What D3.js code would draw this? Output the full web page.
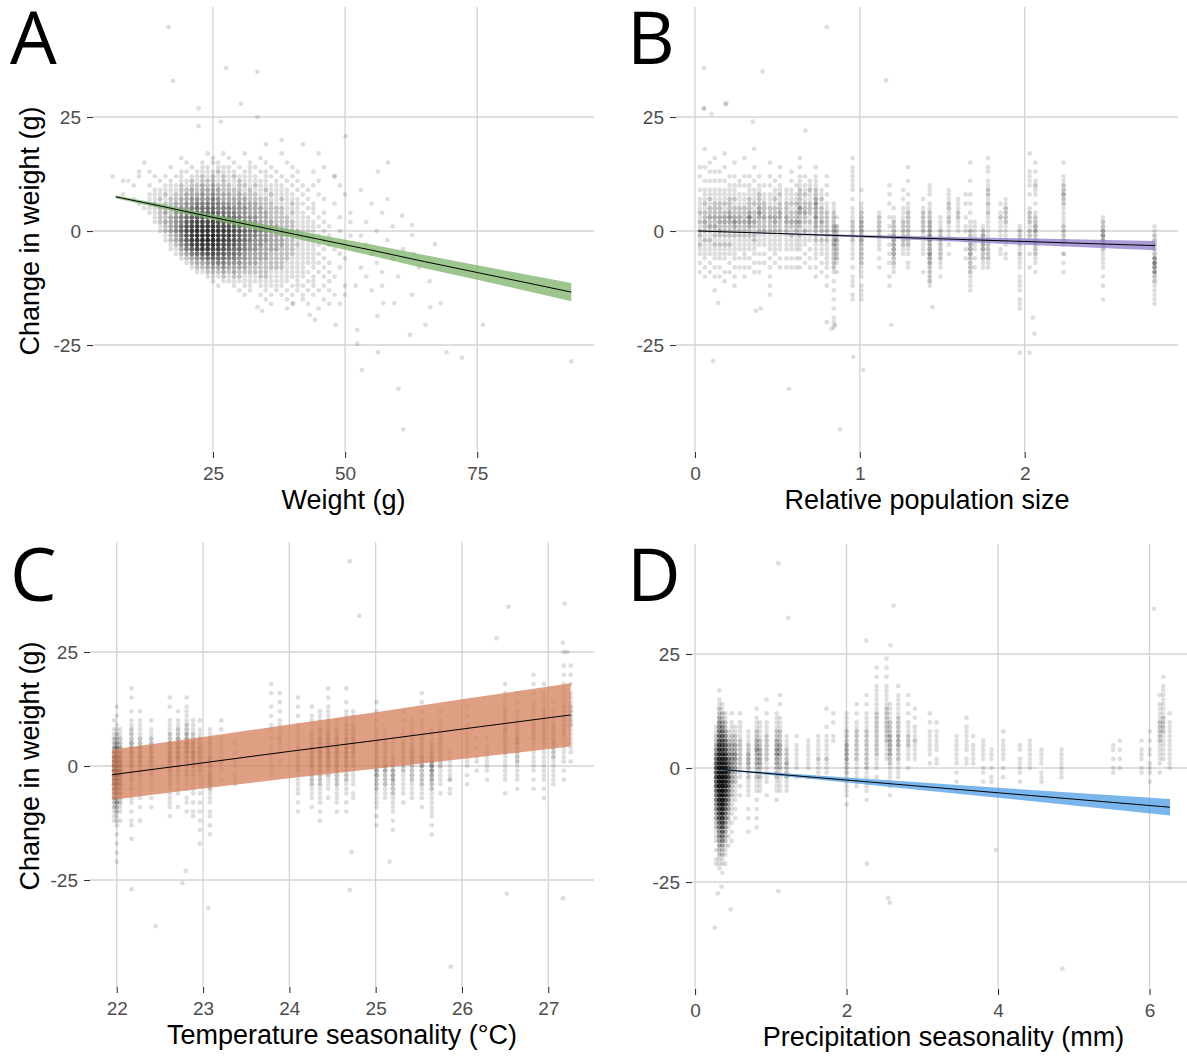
<!DOCTYPE html>
<html>
<head>
<meta charset="utf-8">
<script src="https://cdn.jsdelivr.net/npm/d3@7"></script>
<style>
body { margin: 0; background: #fff; }
text { font-family: "Liberation Sans", Arial, sans-serif; }
</style>
</head>
<body>
<svg id="chart" width="1187" height="1056"></svg>
<script>
// ---------- data ----------
// shared y axis
const yTicks = [-25, 0, 25];
const yDomain = [-48.46, 49.12];

// A: weight. point counts on an integer grid, rows y = 17 .. -17, columns x = 8 .. 62
const weightX0 = 8;
const weightY0 = 17;
const weightRows = [
  "00000 00000 00000 01001 00010 00000 10000 00000 00000 00000 00000",
  "00000 00000 01000 00100 10000 01000 00000 00000 00000 00000 00000",
  "00000 00000 00100 10110 01001 00100 01000 00000 00000 00000 00000",
  "00000 00001 00010 11011 10101 10010 00100 00000 00000 00000 00000",
  "00000 10000 01101 11121 11011 01101 00010 01000 00000 00000 00000",
  "00010 01010 11011 21212 12111 10110 10100 00000 10000 00000 00000",
  "01000 00101 01121 22212 11211 11101 01010 00100 00000 00000 00000",
  "00100 10011 12122 32322 21221 21111 10101 01000 01000 00000 00000",
  "00000 01111 12232 33332 22212 11211 11010 10000 00000 00000 00000",
  "10000 11121 22333 43433 32322 21121 11101 00100 00100 00000 00000",
  "00100 11212 23344 44543 33332 22211 21110 10010 00000 00000 00000",
  "00010 12122 33445 55554 43433 32221 11211 01000 10000 00000 00000",
  "00001 11222 34456 66655 54443 33222 21110 11000 00000 00000 00000",
  "00000 11232 44567 77766 55443 33322 21211 01010 00000 00000 00000",
  "00000 01223 45678 88877 66544 43322 22111 10100 01000 00000 00000",
  "00000 01233 45789 99988 76554 43332 22211 11010 00010 00000 00000",
  "00000 00123 4689a aaa99 87654 44333 22211 11101 00000 00000 00000",
  "00000 00123 468ab bbbaa 98765 54433 32221 11010 01000 00000 00000",
  "00000 00012 358ac ccdba a8765 54433 32221 11101 00010 00000 00000",
  "00000 00012 357ab cdcba 98765 44433 32211 11010 00000 00000 00000",
  "00000 00001 2469a bbba9 87654 44333 32221 11101 00100 00000 00000",
  "00000 00001 13579 aa998 76654 43333 22211 11010 10000 00000 00000",
  "00000 00000 12356 78877 66543 33322 22211 11100 01000 00000 00000",
  "00000 00000 01234 56666 55443 33322 22111 11010 00100 00000 00000",
  "00000 00000 00123 34455 44433 32222 21111 11101 00000 00000 00000",
  "00000 00000 00012 23334 33332 22222 21111 01010 01000 00000 00000",
  "00000 00000 00001 12223 23222 22211 11111 10101 00000 00000 00000",
  "00000 00000 00000 01112 12211 12211 11111 01010 10000 00000 00000",
  "00000 00000 00000 00101 11111 11111 11010 11001 00000 00000 00000",
  "00000 00000 00000 00010 01011 01111 10111 01010 00100 00000 00000",
  "00000 00000 00000 00000 00101 00101 01010 10101 00000 00000 00000",
  "00000 00000 00000 00000 00010 01010 10101 01000 10000 00000 00000",
  "00000 00000 00000 00000 00000 00100 01001 00010 00000 00000 00000",
  "00000 00000 00000 00000 00000 00010 00100 10000 01000 00000 00000",
  "00000 00000 00000 00000 00000 00000 01000 00100 00000 00000 00000"
];
const weightOutliers = [
  [16.6, 44.7], [27.5, 35.7], [17.4, 32.9], [33.4, 34.9], [30.3, 27.9], [22.3, 26.9],
  [22.3, 23], [33.4, 25], [26.5, 24], [50.1, 20.8], [58.1, 15], [56.2, 13], [67, -2.9],
  [76.1, -20.6], [69.2, -26.6], [72.1, -27.8], [92.8, -28.6], [65.2, -20.6], [62.3, -22.8],
  [52.3, -24.7], [52.3, -21.7], [48.2, -20.6], [56.2, -26.6], [53.2, -30.5], [60.1, -34.6],
  [61, -43.5], [68.1, -15.8], [66.1, -16.7], [62.7, -14], [59.3, -15.8], [57.2, -15.8],
  [56.1, -18.6], [62.7, 1.3], [62.7, -0.9], [60.8, 3.4], [43.3, -18.4], [44.3, -19.5],
  [33.4, -16.7], [34.3, -17.5], [40.2, -15.8], [8, 11], [6, 12], [11, 13], [12, 15],
  [35, 19], [38, 20], [42, 19], [45, 17], [46, 14], [48, 12], [53, 9], [55, 6], [57, 4],
  [54, 2], [58, -2], [55, -5], [53, -8], [57, -9], [59, -6], [63, -5], [52, -12],
  [55, -13], [50, -14], [47, -16], [60, -10], [64, -8], [66, -11], [54, -3], [56, 0],
  [58, 7], [61, -4], [51, 4], [53, -1], [56, -7], [59, 1], [54, -10], [57, -12]
];
const weightTicks = [25, 50, 75];
const weightFitX = [6.6, 15, 25, 35, 45, 55, 65, 75, 85, 92.8];
const weightFitY = [7.5, 5.5, 3.0, 0.6, -1.8, -4.2, -6.7, -9.1, -11.5, -13.4];
const weightFitHalf = [0.3, 0.5, 0.6, 0.8, 1.0, 1.25, 1.45, 1.6, 1.8, 2.0];

// B: relative population size. columns [x, top y, counts from top y downwards]
const popCols = [
  [0.03, 14, "10100101112121221211010100"],
  [0.06, 18, "1000100101112122322121111010100"],
  [0.09, 15, "10101011212232321211101010"],
  [0.12, 16, "100101011122232322121110101001"],
  [0.15, 13, "1010111222332321211101010"],
  [0.18, 17, "10010010111212332221211100101"],
  [0.21, 12, "101112223432221211010100"],
  [0.24, 15, "1001011121223432211111010101"],
  [0.27, 11, "11011122332221110101"],
  [0.30, 16, "10001010111222322211111010100"],
  [0.33, 12, "1011122235432211101010"],
  [0.36, 18, "1000100101112122321221110101"],
  [0.39, 12, "1011222343222111010101"],
  [0.42, 10, "101122232221110101"],
  [0.455, 15, "100101011122322211110101010101"],
  [0.485, 11, "10112122332211111010"],
  [0.515, 14, "1010112122332221111010100"],
  [0.555, 9, "1112223322111101010"],
  [0.585, 13, "10101112122321211101010"],
  [0.615, 10, "1011212232211110101"],
  [0.636, 16, "10101112222432321211101010"],
  [0.667, 12, "101121223221211101010"],
  [0.697, 11, "11211222121111010101"],
  [0.733, 14, "1011122343343322211110101"],
  [0.768, 9, "11212223221211101010"],
  [0.8, 12, "1010101122222221111110101"],
  [0.842, 6, "1122233333222221010101010111"],
  [0.86, 3, "1022332222101"],
  [0.956, 16, "10111111010111222221111010111011"],
  [1.01, 9, "1001122333332222211101111"],
  [1.117, 4, "1222221110101"],
  [1.18, 10, "10101001010101010100101"],
  [1.206, 5, "101222333332211"],
  [1.263, 9, "101011122222211"],
  [1.293, 14, "10010010112222222211011"],
  [1.384, 7, "10122222111110001"],
  [1.424, 10, "11101122333443343322221"],
  [1.489, 3, "11122222221101"],
  [1.54, 9, "111221221110101"],
  [1.596, 7, "11122111"],
  [1.642, 8, "101001011010101"],
  [1.67, 15, "10001001010101122233322221111"],
  [1.697, 2, "11111110101"],
  [1.747, 1, "1233332211"],
  [1.778, 16, "1011011221212111112222211"],
  [1.853, 6, "101211111011"],
  [1.885, 7, "11222211111011"],
  [1.97, 1, "1222212111011110111"],
  [2.03, 17, "10001111010012221221001001"],
  [2.065, 15, "1010121101012233222221101"],
  [2.236, 15, "1001122322111122221020101"],
  [2.475, 3, "1223432211110101001"],
  [2.788, 1, "112232245442211111"]
];
const popOutliers = [
  [0.8, 44.7], [0.055, 35.7], [0.41, 35], [1.16, 33], [0.055, 27], [0.19, 28], [0.1, 25.7],
  [0.35, 24], [0.67, 22], [0.11, -28.5], [0.57, -34.6], [0.88, -43.5], [0.96, -27.6],
  [1.02, -30.5], [1.19, -20.6], [1.97, -26.7], [2.03, -26.7], [2.06, -22.5], [1.44, -16.7],
  [0.14, -15.8], [0.37, -17.5], [0.85, -20.6], [0.83, -21.5], [2.05, -19], [0.4, -17],
  [0.054, 26.8], [0.186, 27.8], [0.8, -20]
];
const popTicks = [0, 1, 2];
const popFitX = [0.02, 0.5, 1.0, 1.5, 2.0, 2.5, 2.79];
const popFitY = [0, -0.55, -1.15, -1.72, -2.3, -2.88, -3.2];
const popFitHalf = [0.05, 0.1, 0.25, 0.45, 0.7, 0.9, 1.0];

// C: temperature seasonality
const tempCols = [
  [21.97, 10, "10112234556765543322111"],
  [22.0, 13, "10101122345677876654332211101010101"],
  [22.04, 8, "112233456654433221101"],
  [22.17, 17, "10100101122233433322212111010110010"],
  [22.27, 12, "1011112233432221111101001"],
  [22.40, 10, "10112233332221110101"],
  [22.615, 15, "101001112233444332221111101"],
  [22.71, 12, "1011223344433221111001"],
  [22.81, 15, "10111122334443322211101101"],
  [22.885, 10, "1112233443322111101011"],
  [22.963, 10, "1011223332221110101010101001"],
  [23.08, 8, "112222333233321110110101"],
  [23.21, 10, "101011111211010"],
  [23.37, 5, "1010110111"],
  [23.79, 18, "101001010110101111111"],
  [23.89, 16, "1010101111211101"],
  [24.10, 15, "10101011111222222111110101"],
  [24.26, 13, "10111122233333222211101"],
  [24.355, 12, "1111223344433322211110101"],
  [24.45, 17, "1010111122334444332211101"],
  [24.55, 10, "112233443333222111101"],
  [24.66, 17, "1001011122233444332221110101"],
  [24.74, 12, "11122233332221111011"],
  [25.01, 14, "1010101112222223322211110101"],
  [25.11, 8, "11122222332221110"],
  [25.2, 6, "111122233322211110101"],
  [25.32, 12, "101011122222221111101"],
  [25.42, 10, "1112222333222211110"],
  [25.535, 16, "10101011112222333222211101"],
  [25.65, 8, "111223344433221111110101"],
  [25.75, 12, "1011122222222111101"],
  [25.86, 3, "1111112011"],
  [26.06, 13, "101011111111110101"],
  [26.17, 6, "10101101"],
  [26.29, 6, "1011111101"],
  [26.5, 18, "1011112222322222111111001"],
  [26.64, 16, "1010111222332222111101"],
  [26.83, 20, "10101011112222211111110101"],
  [26.95, 18, "101111222222221111111101010"],
  [27.06, 14, "1011122223222111111"],
  [27.18, 25, "10010101111122222221111110101"],
  [27.26, 22, "1010101112222211111101"]
];
const tempOutliers = [
  [24.7, 44.9], [24.81, 32.9], [27.19, 35.6], [26.54, 34.9], [26.4, 28], [26.52, -28],
  [27.17, -29], [24.7, -27.2], [25.87, -44], [23.06, -31.1], [22.45, -35.1], [22.17, -27],
  [22.76, -25.7], [22.8, -23], [25.16, -21], [24.72, -18.9], [27.17, 27], [27.22, 25]
];
const tempTicks = [22, 23, 24, 25, 26, 27];
const tempFitX = [21.95, 23, 24, 25, 26, 27.26];
const tempFitY = [-1.9, 0.7, 3.2, 5.6, 8.1, 11.2];
const tempFitHalf = [5.5, 5.65, 5.9, 6.2, 6.55, 6.95];

// D: precipitation seasonality
const precCols = [
  [0.28, 9, "1122345678887765544332211101011"],
  [0.32, 17, "1011223445679abcdefffedcba98765443322111"],
  [0.36, 14, "11223456789bcdefghhgfedcb9876543221101"],
  [0.40, 12, "1122345679abcddcba98765443322111010"],
  [0.44, 8, "11233456788765543322110101"],
  [0.484, 12, "10111223344443332221111010101"],
  [0.53, 9, "112233443322211110101"],
  [0.594, 12, "1011112222221110101"],
  [0.704, 8, "11122333222111100101001"],
  [0.814, 13, "101112233433322211101010101"],
  [0.858, 10, "1111223333222111"],
  [0.945, 15, "1001011122222211111001"],
  [1.077, 12, "11112233443322211101"],
  [1.121, 16, "1010011122233322211111"],
  [1.209, 7, "1112223222111"],
  [1.341, 7, "1011111101"],
  [1.495, 6, "111111101"],
  [1.627, 7, "111112111"],
  [1.737, 13, "100010111112111"],
  [1.825, 12, "1010011"],
  [2.0, 12, "111122233332221111101"],
  [2.133, 14, "1010112222222111111"],
  [2.265, 16, "101011112222222221111101"],
  [2.397, 22, "1010111111222222222211101"],
  [2.528, 24, "10101011111222222221111"],
  [2.573, 14, "111122233333221111101"],
  [2.683, 18, "1011111222233322211110"],
  [2.815, 16, "10101011122211101"],
  [2.902, 13, "101011121111"],
  [3.1, 12, "101011111101"],
  [3.188, 10, "1011111011"],
  [3.452, 7, "1111111010101"],
  [3.584, 11, "10111111011"],
  [3.672, 7, "1011111"],
  [3.804, 6, "1111101101"],
  [3.914, 4, "11101011"],
  [4.068, 8, "10111110101"],
  [4.288, 5, "110111101"],
  [4.42, 6, "1111111"],
  [4.573, 4, "11110111"],
  [4.837, 4, "1111111"],
  [5.52, 5, "1101011"],
  [5.607, 6, "1010101"],
  [5.893, 6, "10111011"],
  [6.003, 8, "101011011101"],
  [6.135, 16, "101111222221111101"],
  [6.18, 20, "1011111112222111111"],
  [6.266, 12, "1011111111111"]
];
const precOutliers = [
  [1.1, 44.9], [2.62, 35.6], [1.23, 32.9], [6.06, 34.9], [2.26, 27.9], [2.58, 26.9],
  [0.26, -35], [0.47, -31], [1.1, -27], [2.55, -28.5], [2.57, -29.5], [4.85, -44],
  [3.97, -18], [2.27, -21], [0.35, -26], [0.3, -27.5]
];
const precTicks = [0, 2, 4, 6];
const precFitX = [0.37, 1, 2, 3, 4, 5, 6.27];
const precFitY = [-0.37, -1.25, -2.64, -4.04, -5.43, -6.83, -8.6];
const precFitHalf = [0.1, 0.3, 0.55, 0.85, 1.1, 1.4, 1.8];

// ---------- helpers ----------
const svg = d3.select('#chart');
const dotAlpha = 0.13;
const dotR = 2.4;

function gridPoints(rows, x0, y0) {
  const pts = [];
  rows.forEach((row, r) => {
    row.replace(/\s/g, '').split('').forEach((c, i) => {
      const n = parseInt(c, 36);
      if (n > 0) pts.push({ x: x0 + i, y: y0 - r, n });
    });
  });
  return pts;
}

function colPoints(cols) {
  const pts = [];
  cols.forEach(([x, yTop, s]) => {
    s.replace(/\s/g, '').split('').forEach((c, i) => {
      const n = parseInt(c, 36);
      if (n > 0) pts.push({ x, y: yTop - i, n });
    });
  });
  return pts;
}

function single(list) {
  return list.map(([x, y]) => ({ x, y, n: 1 }));
}

function fitData(xs, ys, hs) {
  return xs.map((x, i) => ({ x, y: ys[i], h: hs[i] }));
}

const panels = [
  { letter: 'A', lx: 10, ly: 64, left: 93, right: 594, top: 7, bottom: 452,
    xDomain: [2.3, 97.1], xTicks: weightTicks, xTitle: 'Weight (g)', yTitle: true,
    points: gridPoints(weightRows, weightX0, weightY0).concat(single(weightOutliers)),
    fit: fitData(weightFitX, weightFitY, weightFitHalf), fill: '#7cb36a' },
  { letter: 'B', lx: 627, ly: 64, left: 676, right: 1178, top: 7, bottom: 452,
    xDomain: [-0.115, 2.93], xTicks: popTicks, xTitle: 'Relative population size', yTitle: false,
    points: colPoints(popCols).concat(single(popOutliers)),
    fit: fitData(popFitX, popFitY, popFitHalf), fill: '#8e7bc8' },
  { letter: 'C', lx: 10, ly: 601, left: 90, right: 594, top: 542, bottom: 987,
    xDomain: [21.69, 27.53], xTicks: tempTicks, xTitle: 'Temperature seasonality (°C)', yTitle: true,
    points: colPoints(tempCols).concat(single(tempOutliers)),
    fit: fitData(tempFitX, tempFitY, tempFitHalf), fill: '#d47f59' },
  { letter: 'D', lx: 627, ly: 601, left: 692, right: 1195, top: 544, bottom: 989,
    xDomain: [-0.04, 6.6], xTicks: precTicks, xTitle: 'Precipitation seasonality (mm)', yTitle: false,
    points: colPoints(precCols).concat(single(precOutliers)),
    fit: fitData(precFitX, precFitY, precFitHalf), fill: '#4e9ee6' }
];

function drawPanel(p) {
  const x = d3.scaleLinear().domain(p.xDomain).range([p.left, p.right]);
  const y = d3.scaleLinear().domain(yDomain).range([p.bottom, p.top]);
  const g = svg.append('g');

  // grid lines
  g.selectAll('line.gx').data(p.xTicks).join('line').attr('class', 'gx')
    .attr('x1', d => x(d)).attr('x2', d => x(d))
    .attr('y1', p.top).attr('y2', p.bottom)
    .attr('stroke', '#d3d3d3').attr('stroke-width', 1.3);
  g.selectAll('line.gy').data(yTicks).join('line').attr('class', 'gy')
    .attr('x1', p.left).attr('x2', p.right)
    .attr('y1', d => y(d)).attr('y2', d => y(d))
    .attr('stroke', '#d3d3d3').attr('stroke-width', 1.3);

  // axes
  const xa = g.append('g').attr('transform', `translate(0,${p.bottom})`)
    .call(d3.axisBottom(x).tickValues(p.xTicks).tickSize(6).tickPadding(9).tickFormat(d => String(d)));
  const ya = g.append('g').attr('transform', `translate(${p.left},0)`)
    .call(d3.axisLeft(y).tickValues(yTicks).tickSize(6).tickPadding(6).tickFormat(d => String(d)));
  [xa, ya].forEach(a => {
    a.select('.domain').remove();
    a.selectAll('.tick line').attr('stroke', '#333').attr('stroke-width', 1.1);
    a.selectAll('.tick text').attr('fill', '#4d4d4d')
      .style('font-size', '19px').style('font-family', '"Liberation Sans", Arial, sans-serif');
  });

  // points
  g.append('g').selectAll('circle').data(p.points).join('circle')
    .attr('cx', d => x(d.x)).attr('cy', d => y(d.y)).attr('r', dotR)
    .attr('fill', '#000')
    .attr('fill-opacity', d => 1 - Math.pow(1 - dotAlpha, d.n));

  // ribbon and fitted line
  const area = d3.area().x(d => x(d.x)).y0(d => y(d.y - d.h)).y1(d => y(d.y + d.h));
  const line = d3.line().x(d => x(d.x)).y(d => y(d.y));
  g.append('path').datum(p.fit).attr('d', area)
    .attr('fill', p.fill).attr('fill-opacity', 0.75);
  g.append('path').datum(p.fit).attr('d', line)
    .attr('fill', 'none').attr('stroke', '#000').attr('stroke-width', 1);

  // titles
  g.append('text').attr('x', (p.left + p.right) / 2).attr('y', p.bottom + 57)
    .attr('text-anchor', 'middle').style('font-size', '27px').attr('fill', '#000')
    .text(p.xTitle);
  if (p.yTitle) {
    g.append('text')
      .attr('transform', `translate(39,${y(0)}) rotate(-90)`)
      .attr('text-anchor', 'middle').style('font-size', '27px').attr('fill', '#000')
      .text('Change in weight (g)');
  }
  g.append('text').attr('x', p.lx).attr('y', p.ly)
    .style('font-family', '"Open Sans", "Noto Sans", sans-serif').style('font-size', '74px')
    .attr('fill', '#000').text(p.letter);
}

panels.forEach(drawPanel);
</script>
</body>
</html>
